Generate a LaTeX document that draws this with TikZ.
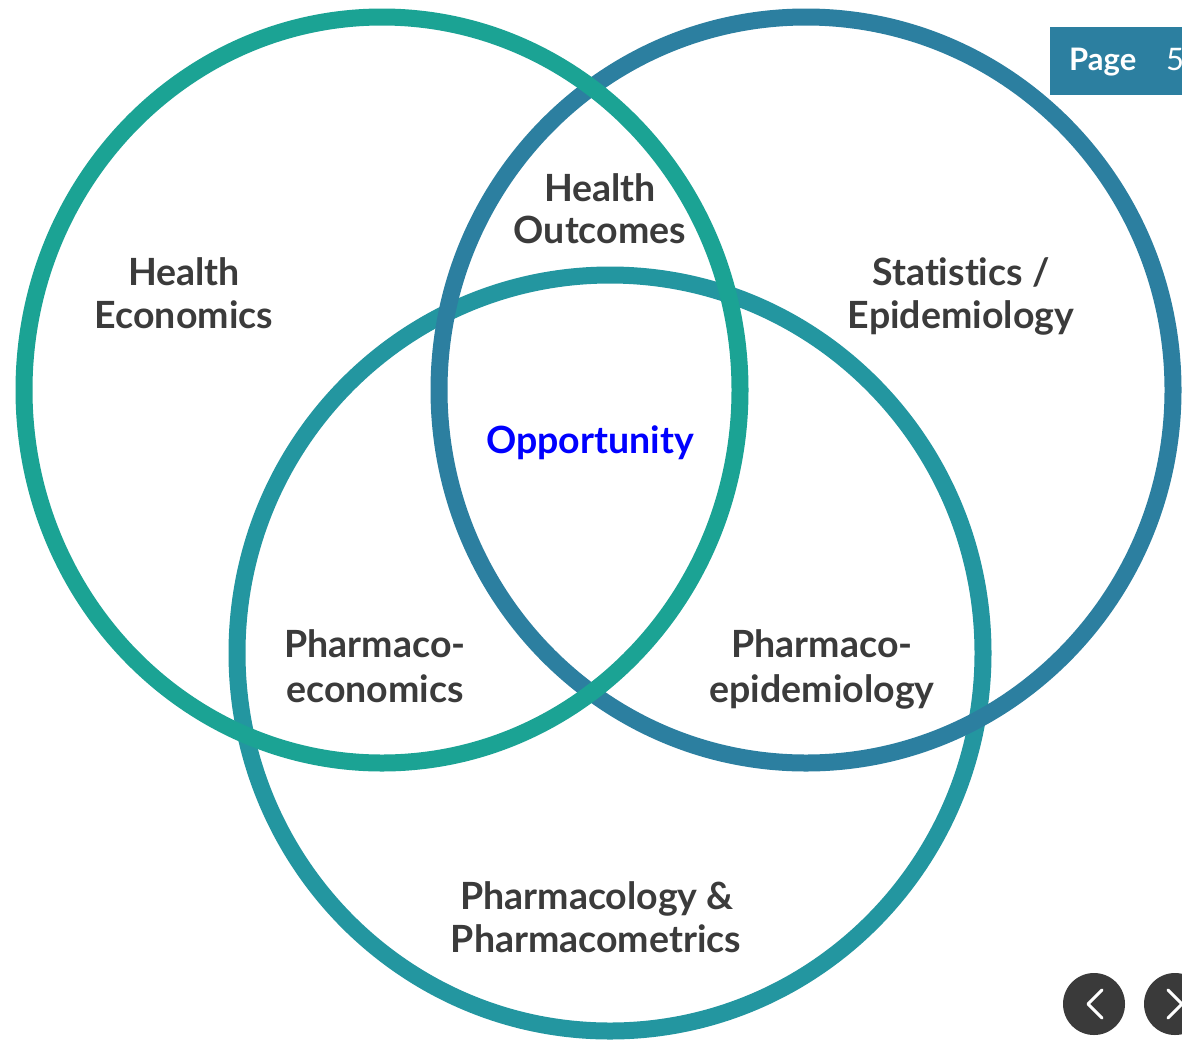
\documentclass[tikz,border=0pt]{standalone}
\usepackage{fontspec}
\setmainfont[Ligatures=NoCommon]{Lato}
\definecolor{ringA}{RGB}{27,163,148}
\definecolor{ringB}{RGB}{44,127,160}
\definecolor{ringC}{RGB}{35,150,160}
\definecolor{ink}{RGB}{59,59,59}
\definecolor{navdark}{RGB}{58,58,58}
\begin{document}
\begin{tikzpicture}[x=1pt,y=-1pt,
  ring/.style={line width=17pt},
  lbl/.style={anchor=base, font=\fontsize{37.5}{43}\selectfont\bfseries, text=ink, inner sep=0pt},
  navbtn/.style={circle, fill=navdark, minimum size=62pt, inner sep=0pt},
  chevron/.style={white, line width=3pt, line cap=round, line join=round},
]
\useasboundingbox (0,0) rectangle (1182,1039);
\fill[white] (0,0) rectangle (1182,1039);

% the three overlapping rings
\draw[ring, ringC] (610,653) ellipse [x radius=373, y radius=378];
\draw[ring, ringB] (806,390) ellipse [x radius=367, y radius=373];
\draw[ring, ringA] (382,390) ellipse [x radius=358, y radius=373];

% region labels
\node[lbl] (he1) at (184,285) {Health};
\node[lbl] (he2) at (184,328) {Economics};
\node[lbl] (ho1) at (600,201) {Health};
\node[lbl] (ho2) at (600,243) {Outcomes};
\node[lbl] (se1) at (961,285) {Statistics /};
\node[lbl] (se2) at (961,328) {Epidemiology};
\node[lbl, text=blue] (opp) at (590,453) {Opportunity};
\node[lbl] (pe1) at (375,657) {Pharmaco-};
\node[lbl] (pe2) at (375,702) {economics};
\node[lbl] (pp1) at (822,657) {Pharmaco-};
\node[lbl] (pp2) at (822,702) {epidemiology};
\node[lbl] (pm1) at (597,909) {Pharmacology \&};
\node[lbl] (pm2) at (596,952) {Pharmacometrics};

% page badge
\fill[ringB] (1050,27) rectangle (1182,95);
\node[anchor=base west, inner sep=0pt, text=white, font=\fontsize{31}{36}\selectfont\bfseries] (pg) at (1069,70) {Page};
\node[anchor=base west, inner sep=0pt, text=white, font=\fontsize{31}{36}\selectfont] (pgn) at (1166,70) {5};

% navigation buttons
\node[navbtn] (prev) at (1094,1004) {};
\node[navbtn] (next) at (1175,1004) {};
\draw[chevron] ([shift={(8,-14)}]prev.center) -- ([shift={(-6,0)}]prev.center) -- ([shift={(8,14)}]prev.center);
\draw[chevron] ([shift={(-7,-14)}]next.center) -- ([shift={(7,0)}]next.center) -- ([shift={(-7,14)}]next.center);
\end{tikzpicture}
\end{document}
